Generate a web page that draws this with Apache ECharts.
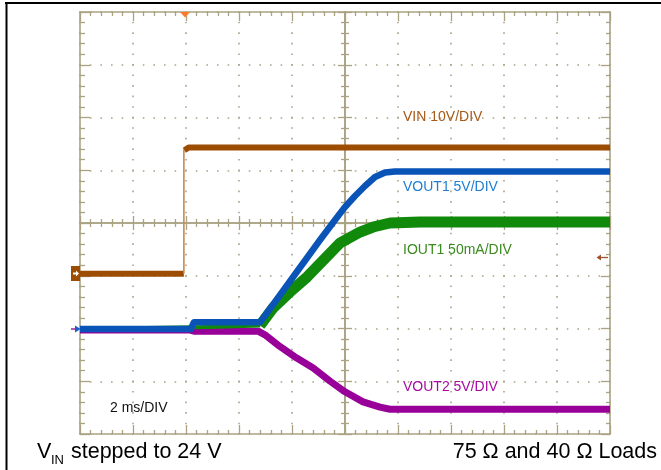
<!DOCTYPE html>
<html><head><meta charset="utf-8">
<script src="https://cdn.jsdelivr.net/npm/echarts@6/dist/echarts.min.js"></script>
<style>html,body{margin:0;padding:0;background:#fff}#c{width:661px;height:470px}</style>
</head><body><div id="c"></div>
<script>
// time in divisions (2 ms/DIV), amplitude in divisions from bottom of screen
const vinLowT = [0, 1.96];
const vinLowV = [3.04, 3.04];
const vinStepT = [1.96, 1.96];
const vinStepV = [3.04, 5.40];
const vinHighT = [1.97, 2.05, 10];
const vinHighV = [5.38, 5.43, 5.43];

const vout1T = [0, 2.09, 2.15, 3.40, 3.774, 4.151, 4.528, 4.811, 5.0, 5.189, 5.377, 5.566, 5.755, 5.943, 10];
const vout1V = [1.99, 1.99, 2.12, 2.12, 2.635, 3.156, 3.678, 4.057, 4.303, 4.512, 4.701, 4.872, 4.957, 4.976, 4.976];

const iout1PreT = [0, 2.45, 3.40];
const iout1PreV = [1.99, 2.03, 2.057];
const iout1T = [3.396, 3.642, 3.962, 4.283, 4.906, 5.283, 5.528, 5.849, 6.415, 10];
const iout1V = [2.057, 2.389, 2.692, 2.976, 3.621, 3.829, 3.924, 4.0, 4.019, 4.019];

const vout2T = [0, 2.08, 2.15, 3.36, 3.49, 3.77, 4.09, 4.40, 4.72, 5.00, 5.34, 5.66, 5.85, 10];
const vout2V = [1.97, 1.97, 1.95, 1.95, 1.88, 1.66, 1.44, 1.25, 1.0, 0.80, 0.61, 0.51, 0.47, 0.47];

const zip = (t, v) => t.map((x, i) => [x, v[i]]);

const G = { left: 80, top: 12, width: 530, height: 422 };
const gridColor = '#aaa282';
const dotColor = '#aca486';

function ax(pos, offset, major, minor, split, dash) {
  return {
    type: 'value', min: 0, max: pos === 'top' || pos === 'bottom' ? 10 : 8, interval: 1,
    position: pos, offset: offset, gridIndex: 0,
    axisLine: { show: true, onZero: false, lineStyle: { color: gridColor, width: 1.6 } },
    axisTick: { show: true, inside: true, length: major, lineStyle: { color: gridColor, width: 1.3 } },
    minorTick: { show: true, splitNumber: 5, length: minor, lineStyle: { color: gridColor, width: 1.3 } },
    axisLabel: { show: false },
    splitLine: { show: split, lineStyle: { color: dotColor, width: 1.6, type: dash, dashOffset: 0.8 } },
    minorSplitLine: { show: false },
    silent: true
  };
}

const chart = echarts.init(document.getElementById('c'), null, { renderer: 'canvas' });

const lineS = (name, data, color, w, z) => ({
  name, type: 'line', data, xAxisIndex: 0, yAxisIndex: 0,
  showSymbol: false, symbol: 'none', smooth: false, z: z,
  lineStyle: { color, width: w, join: 'round', cap: 'butt' }, silent: true, animation: false
});

const txt = (t, x, y, color, size, align) => ({
  type: 'text', x: x, y: y, silent: true, z: 100,
  style: { text: t, fill: color, font: size + 'px "Liberation Sans", Arial, sans-serif',
    textAlign: align || 'left', textVerticalAlign: 'middle' }
});

chart.setOption({
  animation: false,
  backgroundColor: '#ffffff',
  grid: Object.assign({ containLabel: false, outerBoundsMode: 'none' }, G),
  xAxis: [
    ax('bottom', 0, 9, 4, true, [1.6, 8.95]),
    ax('top', 0, 9, 4, false, 'solid'),
    ax('bottom', -211, 7, 4, false, 'solid'),
    ax('top', -211, 7, 4, false, 'solid')
  ],
  yAxis: [
    ax('left', 0, 10, 5, true, [1.6, 9.0]),
    ax('right', 0, 9, 4, false, 'solid'),
    ax('left', -265, 7, 4, false, 'solid'),
    ax('right', -265, 7, 4, false, 'solid')
  ],
  series: [
    lineS('VIN', zip(vinLowT, vinLowV), '#9d4d02', 6, 3),
    lineS('VIN step', zip(vinStepT, vinStepV), '#c38a55', 1.6, 3),
    lineS('VIN high', zip(vinHighT, vinHighV), '#9d4d02', 6, 3),
    lineS('VOUT2', zip(vout2T, vout2V), '#990099', 7, 4),
    lineS('IOUT1 pre', zip(iout1PreT, iout1PreV), '#118a0c', 4, 5),
    lineS('IOUT1', zip(iout1T, iout1V), '#118a0c', 11, 5),
    lineS('VOUT1', zip(vout1T, vout1V), '#0a54b8', 6.5, 6)
  ],
  graphic: [
    { type: 'line', silent: true, shape: { x1: 5, y1: 3, x2: 661, y2: 3 }, style: { stroke: '#000', lineWidth: 2 } },
    { type: 'line', silent: true, shape: { x1: 6.5, y1: 3, x2: 6.5, y2: 470 }, style: { stroke: '#000', lineWidth: 2 } },
    { type: 'polygon', silent: true, z: 100, shape: { points: [[180, 12], [190, 12], [185, 17.5]] }, style: { fill: '#ff7a28' } },
    { type: 'rect', silent: true, z: 100, shape: { x: 71, y: 266, width: 9, height: 15 }, style: { fill: '#9d4d02' } },
    { type: 'polygon', silent: true, z: 101, shape: { points: [[73, 272.5], [76, 272.5], [76, 270.5], [79, 273.5], [76, 276.5], [76, 274.5], [73, 274.5]] }, style: { fill: '#ffffff' } },
    { type: 'line', silent: true, z: 100, shape: { x1: 71, y1: 329, x2: 77, y2: 329 }, style: { stroke: '#a020a0', lineWidth: 1.5 } },
    { type: 'polygon', silent: true, z: 100, shape: { points: [[75, 325.5], [80.5, 329], [75, 332.5]] }, style: { fill: '#1d5fc8' } },
    { type: 'line', silent: true, z: 100, shape: { x1: 599, y1: 257.5, x2: 608, y2: 257.5 }, style: { stroke: '#a0522d', lineWidth: 1.3 } },
    { type: 'polygon', silent: true, z: 100, shape: { points: [[596.5, 257.5], [601, 254.5], [601, 260.5]] }, style: { fill: '#a0522d' } },
    txt('VIN 10V/DIV', 403, 117.5, '#a55a18', 14),
    txt('VOUT1 5V/DIV', 403, 187, '#1f7ed4', 14),
    txt('IOUT1 50mA/DIV', 403, 250, '#3a8a1e', 14),
    txt('VOUT2 5V/DIV', 403, 387, '#a40ca4', 14),
    txt('2 ms/DIV', 110, 408, '#111111', 14),
    { type: 'text', x: 37, y: 463, silent: true, z: 100, style: { text: 'V', fill: '#000', font: '21.5px "Liberation Sans", Arial, sans-serif', textAlign: 'left', textVerticalAlign: 'bottom' } },
    { type: 'text', x: 51, y: 466.5, silent: true, z: 100, style: { text: 'IN', fill: '#000', font: '13px "Liberation Sans", Arial, sans-serif', textAlign: 'left', textVerticalAlign: 'bottom' } },
    { type: 'text', x: 65, y: 463, silent: true, z: 100, style: { text: ' stepped to 24 V', fill: '#000', font: '21.5px "Liberation Sans", Arial, sans-serif', textAlign: 'left', textVerticalAlign: 'bottom' } },
    { type: 'text', x: 657, y: 463, silent: true, z: 100, style: { text: '75 \u03A9 and 40 \u03A9 Loads', fill: '#000', font: '21.5px "Liberation Sans", Arial, sans-serif', textAlign: 'right', textVerticalAlign: 'bottom' } }
  ]
});
</script></body></html>
